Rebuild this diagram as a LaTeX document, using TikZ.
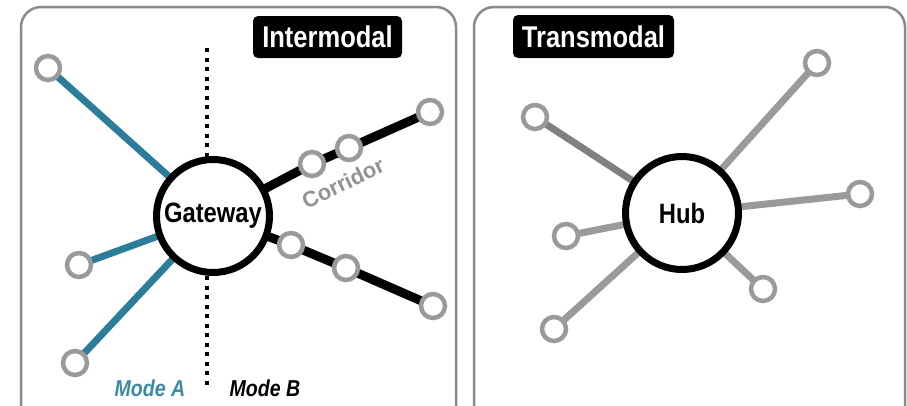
\documentclass[tikz,border=0pt]{standalone}
\usepackage{fontspec}
\setmainfont{Liberation Sans}
\newfontfamily\cond[FakeStretch=0.85]{Liberation Sans}
\usetikzlibrary{backgrounds}
\definecolor{tealL}{HTML}{2C7D99}
\definecolor{modeA}{HTML}{3A8BA6}
\definecolor{grayL}{HTML}{9A9A9A}
\definecolor{grayT}{HTML}{929292}
\definecolor{grayD}{HTML}{808080}
\definecolor{panelC}{HTML}{8A8A8A}
\begin{document}
\begin{tikzpicture}[x=1pt,y=-1pt,
  panel/.style={draw=panelC,line width=2.5pt,rounded corners=20pt},
  stop/.style={circle,draw=grayL,fill=white,line width=4.5pt,minimum size=24pt,inner sep=0pt},
  bignode/.style={circle,draw=black,fill=white,line width=7pt,minimum size=113pt,inner sep=0pt,font=\cond\bfseries\fontsize{28}{28}\selectfont},
  tag/.style={fill=black,text=white,rounded corners=5pt,inner sep=0pt,font=\cond\bfseries\fontsize{30}{30}\selectfont},
  tealline/.style={draw=tealL,line width=7pt},
  blackline/.style={draw=black,line width=9pt},
  grayline/.style={draw=grayL,line width=7pt},
  darkline/.style={draw=grayD,line width=7pt},
  divider/.style={draw=black,line width=4pt,dash pattern=on 4pt off 5.5pt},
  modelabel/.style={anchor=base,font=\cond\bfseries\itshape\fontsize{23}{23}\selectfont},
]
\useasboundingbox (0,0) rectangle (907,405);
% panels
\draw[panel] (21,413) -- (21,7) -- (456,7) -- (456,413);
\draw[panel] (474,413) -- (474,7) -- (905,7) -- (905,413);

% ---- Intermodal panel ----
\draw[divider] (207,48) -- (207,388);
\node[bignode] (gw) at (213,216) {Gateway};
\node[stop] (a1) at (48,68) {};
\node[stop] (a2) at (79,265) {};
\node[stop] (a3) at (75,363) {};
\node[stop] (c1) at (312,164) {};
\node[stop] (c2) at (349,148) {};
\node[stop] (c3) at (430,112) {};
\node[stop] (d1) at (291,245) {};
\node[stop] (d2) at (346,268) {};
\node[stop] (d3) at (433,306) {};
\begin{scope}[on background layer]
  \draw[tealline] (gw.center) -- (a1.center);
  \draw[tealline] (gw.center) -- (a2.center);
  \draw[tealline] (gw.center) -- (a3.center);
  \draw[blackline] (gw.center) -- (c1.center) -- (c2.center) -- (c3.center);
  \draw[blackline] (gw.center) -- (d1.center) -- (d2.center) -- (d3.center);
\end{scope}
\node[text=grayT,font=\bfseries\fontsize{22}{22}\selectfont,rotate=25.5] (corr) at (343,183) {Corridor};
\node[tag,minimum width=149pt,minimum height=42pt] (inter) at (327.5,37) {Intermodal};
\node[modelabel,text=modeA] (ma) at (150,396) {Mode A};
\node[modelabel,text=black] (mb) at (265,396) {Mode B};

% ---- Transmodal panel ----
\node[bignode] (hub) at (682,213) {Hub};
\node[stop] (h1) at (535,117) {};
\node[stop] (h2) at (566,236) {};
\node[stop] (h3) at (554,329) {};
\node[stop] (h4) at (817,63) {};
\node[stop] (h5) at (860,194) {};
\node[stop] (h6) at (763,289) {};
\begin{scope}[on background layer]
  \draw[darkline] (hub.center) -- (h1.center);
  \draw[grayline] (hub.center) -- (h2.center);
  \draw[grayline] (hub.center) -- (h3.center);
  \draw[grayline] (hub.center) -- (h4.center);
  \draw[grayline] (hub.center) -- (h5.center);
  \draw[grayline] (hub.center) -- (h6.center);
\end{scope}
\node[tag,minimum width=161pt,minimum height=43pt] (trans) at (593.5,36.5) {Transmodal};
\end{tikzpicture}
\end{document}
